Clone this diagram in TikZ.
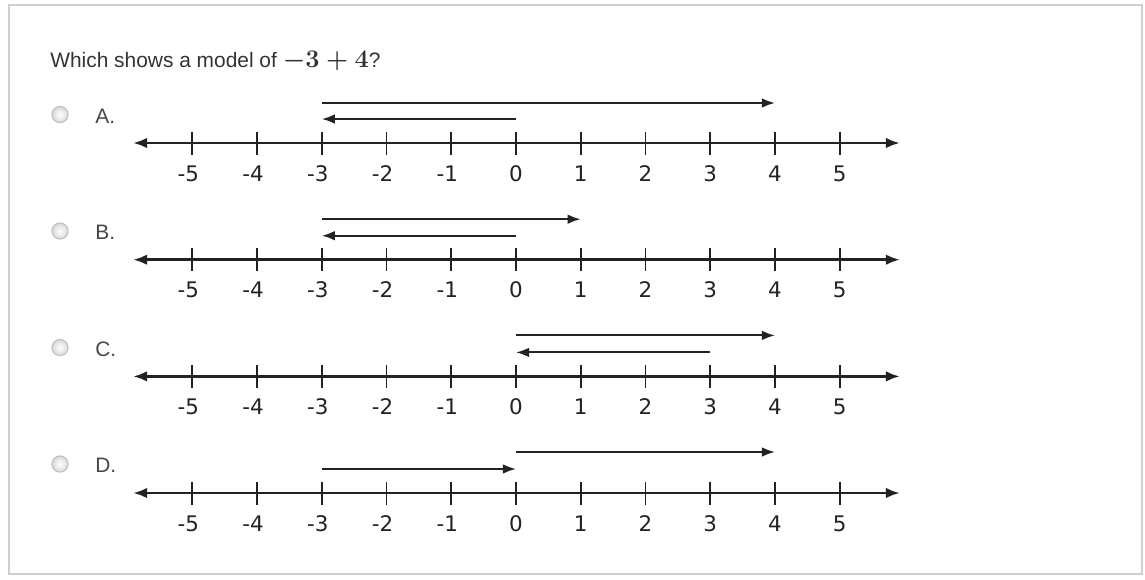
\documentclass[tikz,border=0pt]{standalone}
\usepackage[no-math]{fontspec}
\setmainfont{Liberation Sans}
\newfontfamily\tickfont{DejaVu Sans}
\usetikzlibrary{arrows.meta,positioning,calc}
\definecolor{txtcol}{HTML}{333333}
\definecolor{linecol}{HTML}{222222}
\definecolor{framecol}{HTML}{CFCFCF}

\begin{document}
\begin{tikzpicture}[x=0.02cm, y=-0.02cm,
  font=\fontsize{11.9}{14}\selectfont,
  ques/.style  = {anchor=base west, inner sep=0pt, text=txtcol},
  opt/.style   = {anchor=base west, inner sep=0pt, text=txtcol!90},
  radio/.style = {circle, draw=gray!50, line width=0.6pt, inner color=white,
                  outer color=gray!30, minimum size=9.2pt, inner sep=0pt},
  axis/.style  = {{Latex[length=8pt,width=6pt]}-{Latex[length=8pt,width=6pt]},
                  line width=1.6pt, linecol},
  tick/.style  = {line width=1.1pt, linecol},
  lab/.style   = {anchor=base, inner sep=0pt, text=linecol,
                  font=\tickfont\fontsize{12.2}{14}\selectfont},
  model/.style = {-{Latex[length=7.5pt,width=5.5pt]}, line width=1.15pt, linecol},
  frame/.style = {draw=framecol, line width=1.3pt}]
\newcommand{\tlab}[1]{\ifnum#1<0 \llap{-}\number\numexpr-#1\relax\else#1\fi}
\newcommand{\numline}[2]{%
  \coordinate (#1w) at (133,#2);
  \coordinate (#1e) at (900,#2);
  \draw[axis] (#1w) -- (#1e);
  \foreach \v in {-5,...,5} {
    \coordinate (#1\v) at ({516+64.75*\v},#2);
    \draw[tick] ($(#1\v)+(0,-11.5)$) -- ($(#1\v)+(0,11.5)$);
    \node[lab] (#1t\v) at ($(#1\v)+(0,38)$) {\tlab{\v}};
  }}

\useasboundingbox (0,0) rectangle (1145,579);
\draw[frame] (9,5) rectangle (1142,574);

\node[ques] (q) at (50,67)
  {Which shows a model of {\fontsize{13.4}{16}\selectfont\boldmath$-3+4$}?};

\node[radio] (ra) at (60,114.5) {};
\node[opt] (oa) at (95,123) {A.};
\numline{a}{143}
\draw[model] ($(a-3)+(0,-40)$) -- ($(a4)+(0,-40)$);
\draw[model] ($(a0)+(0,-24)$) -- ($(a-3)+(0,-24)$);

\node[radio] (rb) at (60,231) {};
\node[opt] (ob) at (95,239.5) {B.};
\numline{b}{259.7}
\draw[model] ($(b-3)+(0,-40.5)$) -- ($(b1)+(0,-40.5)$);
\draw[model] ($(b0)+(0,-24)$) -- ($(b-3)+(0,-24)$);

\node[radio] (rc) at (60,347.5) {};
\node[opt] (oc) at (95,356) {C.};
\numline{c}{376.4}
\draw[model] ($(c0)+(0,-41)$) -- ($(c4)+(0,-41)$);
\draw[model] ($(c3)+(0,-24)$) -- ($(c0)+(0,-24)$);

\node[radio] (rd) at (60,464) {};
\node[opt] (od) at (95,472.5) {D.};
\numline{d}{493}
\draw[model] ($(d0)+(0,-41)$) -- ($(d4)+(0,-41)$);
\draw[model] ($(d-3)+(0,-24)$) -- ($(d0)+(0,-24)$);
\end{tikzpicture}
\end{document}
